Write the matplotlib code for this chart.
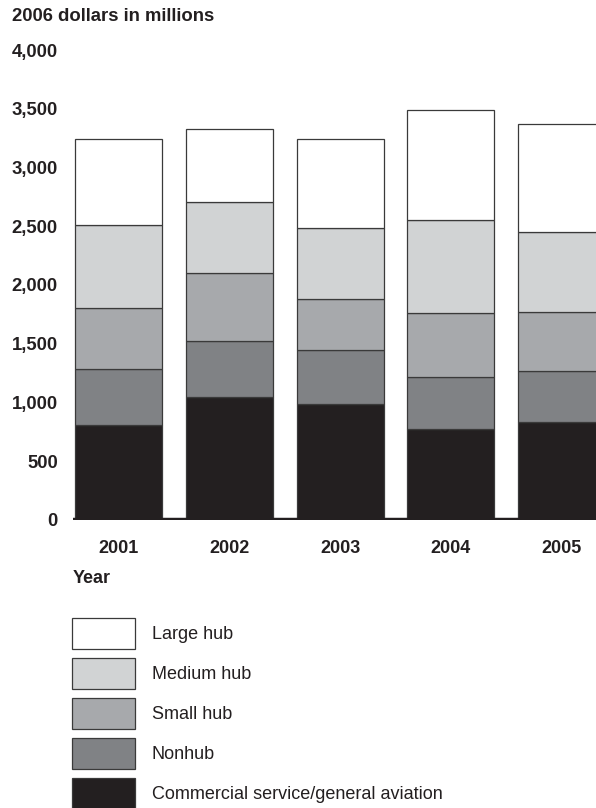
import matplotlib
matplotlib.use("Agg")
import matplotlib.pyplot as plt
from matplotlib.patches import Patch
from matplotlib.ticker import FuncFormatter

# AIP funding by airport category, 2006 dollars in millions
years = ["2001", "2002", "2003", "2004", "2005"]
commercial = [805, 1050, 990, 775, 830]
nonhub = [480, 470, 455, 440, 440]
small_hub = [520, 585, 435, 550, 500]
medium_hub = [705, 600, 605, 790, 685]
large_hub = [735, 625, 760, 935, 915]

series_names = ["Commercial service/general aviation", "Nonhub", "Small hub",
                "Medium hub", "Large hub"]
series_colors = ["#231f20", "#808285", "#a7a9ac", "#d1d3d4", "#ffffff"]
yticks = [0, 500, 1000, 1500, 2000, 2500, 3000, 3500, 4000]

ink = "#231f20"
edge = "#3a3a3a"
plt.rcParams["font.family"] = ["Liberation Sans", "DejaVu Sans"]

W, H = 596, 808
fig = plt.figure(figsize=(W / 100, H / 100), dpi=100)
ax = fig.add_axes([72.7 / W, 1 - 520 / H, 1 - 72.7 / W, 470 / H])

x = list(range(len(years)))
bottom = [0] * len(years)
for name, vals, col in zip(series_names,
                           [commercial, nonhub, small_hub, medium_hub, large_hub],
                           series_colors):
    ax.bar(x, vals, width=0.784, bottom=bottom, color=col, edgecolor=edge,
           linewidth=0.9, label=name, zorder=2)
    bottom = [b + v for b, v in zip(bottom, vals)]

ax.axhline(0, color=ink, linewidth=3.2, zorder=3)

ax.set_xlim(-0.416, 4.311)
ax.set_ylim(0, 4000)
ax.set_yticks(yticks)
ax.yaxis.set_major_formatter(FuncFormatter(lambda v, p: f"{int(v):,}"))
ax.set_xticks(x)
ax.set_xticklabels(years)
ax.tick_params(axis="y", length=0, pad=10.6, labelsize=13.3, labelcolor=ink)
ax.tick_params(axis="x", length=0, pad=14.4, labelsize=13, labelcolor=ink)
for lab in ax.get_xticklabels() + ax.get_yticklabels():
    lab.set_fontweight("bold")
for s in ax.spines.values():
    s.set_visible(False)

fig.text(11.7 / W, 1 - 16.5 / H, "2006 dollars in millions", fontsize=13.3,
         fontweight="bold", color=ink, ha="left", va="center")
fig.text(72.7 / W, 1 - 578.3 / H, "Year", fontsize=13, fontweight="bold",
         color=ink, ha="left", va="center")

# legend, top entry first
handles = [Patch(facecolor=c, edgecolor=edge, linewidth=0.9, label=n)
           for n, c in zip(series_names, series_colors)][::-1]
fig.legend(handles=handles, loc="upper left",
           bbox_to_anchor=(72.3 / W, 1 - 618 / H), frameon=False,
           fontsize=13, handlelength=3.49, handleheight=2.265,
           labelspacing=0.5, handletextpad=0.9, borderpad=0,
           borderaxespad=0, labelcolor=ink)

fig.savefig("out.png", dpi=100)
